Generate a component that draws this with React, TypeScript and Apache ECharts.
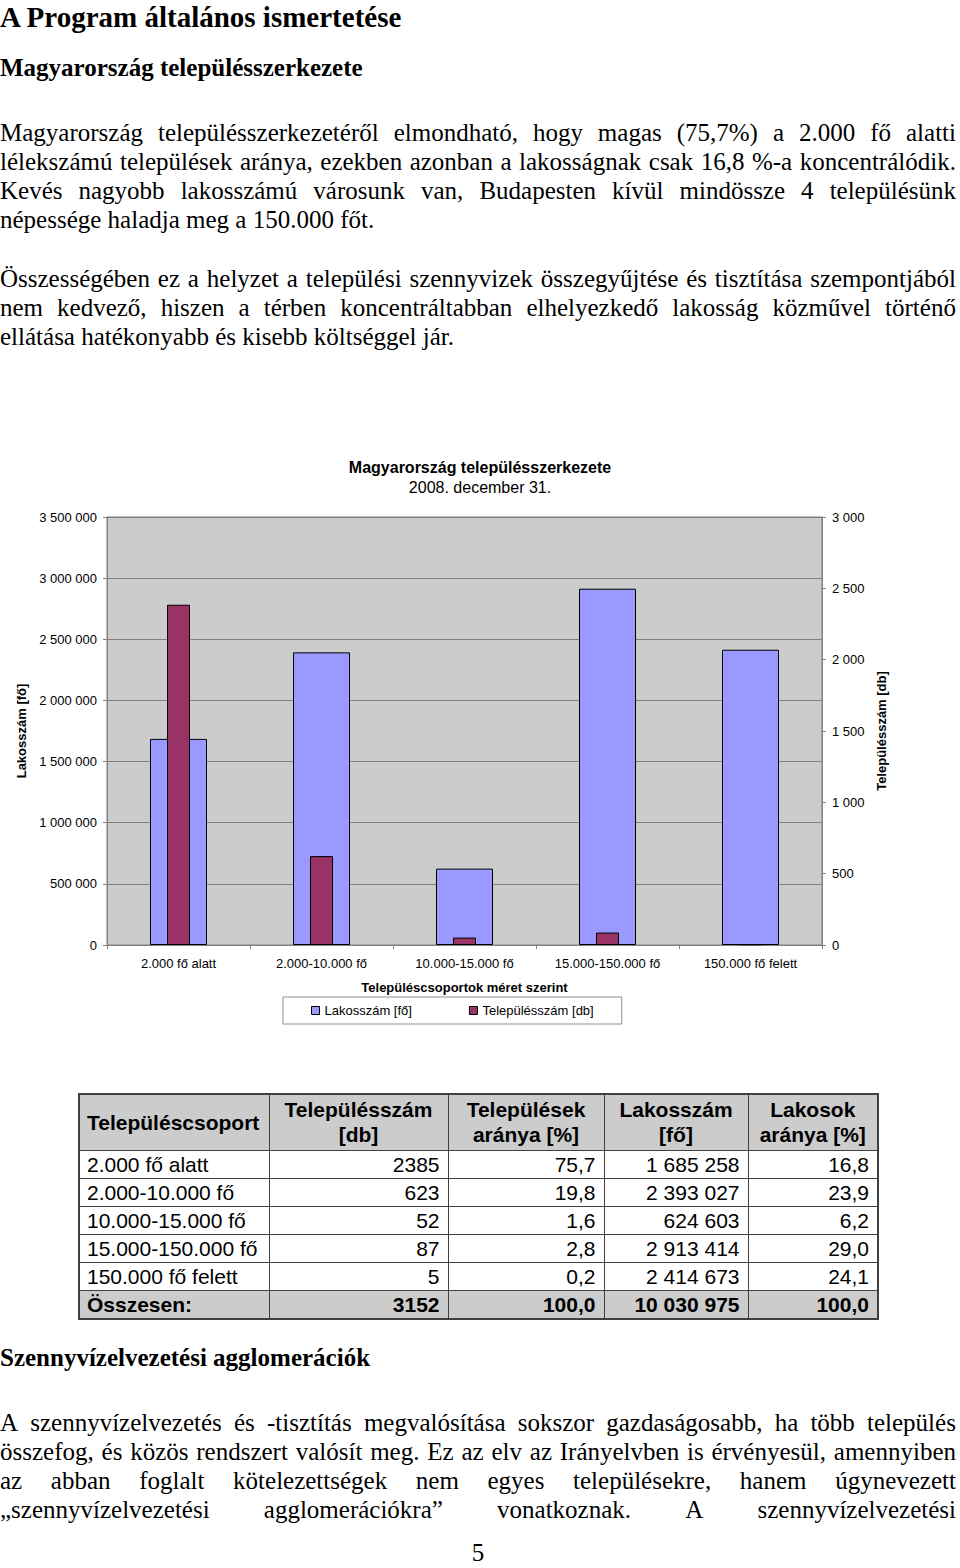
import React, { useEffect, useRef } from "react";
import * as echarts from "echarts";

const categories = ["2.000 fő alatt", "2.000-10.000 fő", "10.000-15.000 fő", "15.000-150.000 fő", "150.000 fő felett"];
const lakosszam = [1685258, 2393027, 624603, 2913414, 2414673];
const telepulesszam = [2385, 623, 52, 87, 5];
const telepulesArany = ["75,7", "19,8", "1,6", "2,8", "0,2"];
const lakosArany = ["16,8", "23,9", "6,2", "29,0", "24,1"];
const totals = ["3152", "100,0", "10 030 975", "100,0"];

const fmt = (v: number) => String(v).replace(/\B(?=(\d{3})+(?!\d))/g, " ");

const SERIF = "'Liberation Serif', 'Times New Roman', serif";
const SANS = "'Liberation Sans', Arial, sans-serif";

function JLine({ text, top, justify = true, bold = false }: { text: string; top: number; justify?: boolean; bold?: boolean }) {
  const base: React.CSSProperties = {
    position: "absolute",
    left: 0,
    top: top - 15,
    width: 956,
    height: 29,
    lineHeight: "29px",
    fontFamily: SERIF,
    fontSize: 25,
    fontWeight: bold ? "bold" : "normal",
    color: "#000",
    whiteSpace: "pre",
  };
  if (!justify) return <div style={base}>{text}</div>;
  const words = text.split(" ");
  return (
    <div style={{ ...base, display: "flex", justifyContent: "space-between" }}>
      {words.map((w, i) => (
        <span key={i}>{w}</span>
      ))}
    </div>
  );
}

function Chart() {
  const ref = useRef<HTMLDivElement>(null);
  useEffect(() => {
    if (!ref.current) return;
    const chart = echarts.init(ref.current, null, { renderer: "svg" });
    const axisGray = "#808080";
    chart.setOption({
      animation: false,
      textStyle: { fontFamily: SANS },
      title: {
        text: "Magyarország településszerkezete",
        subtext: "2008. december 31.",
        left: "center",
        top: 14,
        itemGap: 4,
        textStyle: { fontSize: 16, fontWeight: "bold", color: "#000", fontFamily: SANS },
        subtextStyle: { fontSize: 16, color: "#000", fontFamily: SANS },
      },
      legend: {
        left: 283,
        top: 557,
        orient: "horizontal",
        itemWidth: 8,
        itemHeight: 8,
        itemGap: 57,
        padding: [7, 28],
        backgroundColor: "#fff",
        borderColor: "#909090",
        borderWidth: 1,
        borderRadius: 0,
        textStyle: { fontSize: 13, color: "#000", fontFamily: SANS },
        data: [
          { name: "Lakosszám [fő]", icon: "rect", itemStyle: { borderColor: "#000", borderWidth: 1 } },
          { name: "Településszám [db]", icon: "rect", itemStyle: { borderColor: "#000", borderWidth: 1 } },
        ],
      },
      grid: {
        left: 107,
        right: 138,
        top: 77,
        bottom: 95,
        show: true,
        backgroundColor: "#cccccc",
        borderColor: axisGray,
        borderWidth: 1,
      },
      xAxis: [
        {
          type: "category",
          data: categories,
          name: "Településcsoportok méret szerint",
          nameLocation: "middle",
          nameGap: 36,
          nameTextStyle: { fontSize: 13, fontWeight: "bold", color: "#000", fontFamily: SANS },
          axisLine: { lineStyle: { color: axisGray } },
          axisTick: { show: true, length: 4, lineStyle: { color: axisGray } },
          axisLabel: { fontSize: 13, color: "#000", margin: 12, fontFamily: SANS },
        },
        {
          type: "category",
          data: categories,
          show: false,
          position: "bottom",
        },
      ],
      yAxis: [
        {
          type: "value",
          min: 0,
          max: 3500000,
          interval: 500000,
          name: "Lakosszám [fő]",
          nameLocation: "middle",
          nameRotate: 90,
          nameGap: 74,
          nameTextStyle: { fontSize: 13, fontWeight: "bold", color: "#000", fontFamily: SANS },
          axisLine: { show: true, lineStyle: { color: axisGray } },
          axisTick: { show: true, length: 4, lineStyle: { color: axisGray } },
          axisLabel: { fontSize: 13, color: "#000", margin: 10, formatter: (v: number) => fmt(v), fontFamily: SANS },
          splitLine: { show: true, lineStyle: { color: axisGray, width: 1 } },
        },
        {
          type: "value",
          min: 0,
          max: 3000,
          interval: 500,
          position: "right",
          name: "Településszám [db]",
          nameLocation: "middle",
          nameRotate: 90,
          nameGap: 49,
          nameTextStyle: { fontSize: 13, fontWeight: "bold", color: "#000", fontFamily: SANS },
          axisLine: { show: true, lineStyle: { color: axisGray } },
          axisTick: { show: true, length: 4, lineStyle: { color: axisGray } },
          axisLabel: { fontSize: 13, color: "#000", margin: 10, formatter: (v: number) => fmt(v), fontFamily: SANS },
          splitLine: { show: false },
        },
      ],
      series: [
        {
          name: "Lakosszám [fő]",
          type: "bar",
          xAxisIndex: 0,
          yAxisIndex: 0,
          data: lakosszam,
          barWidth: 57,
          itemStyle: { color: "#9999ff", borderColor: "#000", borderWidth: 1 },
        },
        {
          name: "Településszám [db]",
          type: "bar",
          xAxisIndex: 1,
          yAxisIndex: 1,
          data: telepulesszam,
          barWidth: 23,
          itemStyle: { color: "#993366", borderColor: "#000", borderWidth: 1 },
        },
      ],
    });
    return () => chart.dispose();
  }, []);
  return <div ref={ref} style={{ position: "absolute", left: 0, top: 440, width: 960, height: 600 }} />;
}

function Table() {
  const border = "1px solid #404040";
  const colW = [190, 179, 156, 144, 130];
  const cell: React.CSSProperties = {
    border,
    padding: "0 8px 0 7px",
    height: 27,
    lineHeight: "27px",
    fontFamily: SANS,
    fontSize: 21,
    color: "#000",
    whiteSpace: "nowrap",
    boxSizing: "border-box",
  };
  const head: React.CSSProperties = {
    ...cell,
    background: "#cccccc",
    fontWeight: "bold",
    textAlign: "center",
    lineHeight: "25px",
    height: 56,
    padding: "2px 4px",
  };
  const rows = categories.map((c, i) => [c, String(telepulesszam[i]), telepulesArany[i], fmt(lakosszam[i]), lakosArany[i]]);
  return (
    <table
      style={{
        position: "absolute",
        left: 78,
        top: 1093,
        width: 799,
        borderCollapse: "collapse",
        tableLayout: "fixed",
        border: "2px solid #404040",
      }}
    >
      <colgroup>
        {colW.map((w, i) => (
          <col key={i} style={{ width: w }} />
        ))}
      </colgroup>
      <tbody>
        <tr>
          <td style={{ ...head, textAlign: "left", paddingLeft: 7 }}>Településcsoport</td>
          <td style={head}>
            Településszám
            <br />
            [db]
          </td>
          <td style={head}>
            Települések
            <br />
            aránya [%]
          </td>
          <td style={head}>
            Lakosszám
            <br />
            [fő]
          </td>
          <td style={head}>
            Lakosok
            <br />
            aránya [%]
          </td>
        </tr>
        {rows.map((r, i) => (
          <tr key={i}>
            {r.map((v, j) => (
              <td key={j} style={{ ...cell, textAlign: j === 0 ? "left" : "right" }}>
                {v}
              </td>
            ))}
          </tr>
        ))}
        <tr>
          <td style={{ ...cell, background: "#cccccc", fontWeight: "bold" }}>Összesen:</td>
          {totals.map((v, j) => (
            <td key={j} style={{ ...cell, background: "#cccccc", fontWeight: "bold", textAlign: "right" }}>
              {v}
            </td>
          ))}
        </tr>
      </tbody>
    </table>
  );
}

export default function App() {
  return (
    <div style={{ position: "absolute", left: 0, top: 0, width: 960, height: 1568, background: "#fff", overflow: "hidden" }}>
      <div style={{ position: "absolute", left: 0, top: 0, fontFamily: SERIF, fontSize: 29, fontWeight: "bold", lineHeight: "34px", whiteSpace: "pre" }}>
        A Program általános ismertetése
      </div>
      <JLine text="Magyarország településszerkezete" top={68} justify={false} bold />
      <JLine text="Magyarország településszerkezetéről elmondható, hogy magas (75,7%) a 2.000 fő alatti" top={133} />
      <JLine text="lélekszámú települések aránya, ezekben azonban a lakosságnak csak 16,8 %-a koncentrálódik." top={162} />
      <JLine text="Kevés nagyobb lakosszámú városunk van, Budapesten kívül mindössze 4 településünk" top={191} />
      <JLine text="népessége haladja meg a 150.000 főt." top={220} justify={false} />
      <JLine text="Összességében ez a helyzet a települési szennyvizek összegyűjtése és tisztítása szempontjából" top={279} />
      <JLine text="nem kedvező, hiszen a térben koncentráltabban elhelyezkedő lakosság közművel történő" top={308} />
      <JLine text="ellátása hatékonyabb és kisebb költséggel jár." top={337} justify={false} />
      <Chart />
      <Table />
      <JLine text="Szennyvízelvezetési agglomerációk" top={1358} justify={false} bold />
      <JLine text="A szennyvízelvezetés és -tisztítás megvalósítása sokszor gazdaságosabb, ha több település" top={1423} />
      <JLine text="összefog, és közös rendszert valósít meg. Ez az elv az Irányelvben is érvényesül, amennyiben" top={1452} />
      <JLine text="az abban foglalt kötelezettségek nem egyes településekre, hanem úgynevezett" top={1481} />
      <JLine text="„szennyvízelvezetési agglomerációkra” vonatkoznak. A szennyvízelvezetési" top={1510} />
      <div style={{ position: "absolute", left: 0, width: 956, top: 1538, height: 29, textAlign: "center", fontFamily: SERIF, fontSize: 25, lineHeight: "29px" }}>
        5
      </div>
    </div>
  );
}
